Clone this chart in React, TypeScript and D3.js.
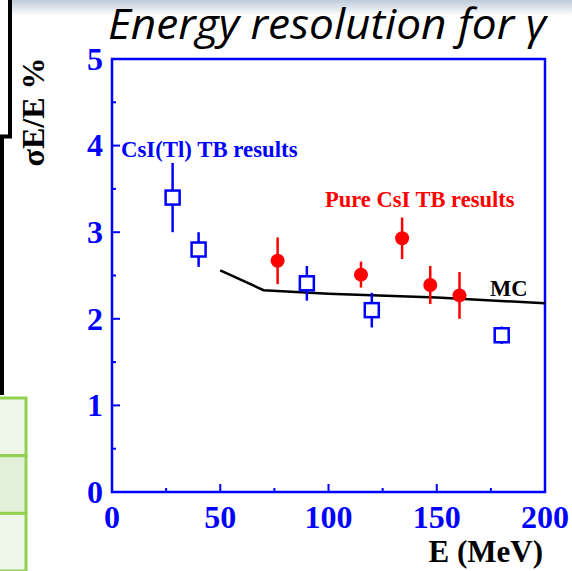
import React from "react";
import * as d3 from "d3";

// CsI(Tl) test-beam results: energy (MeV), resolution (%), error (%)
const csiTlEnergy = [28, 40, 90, 120, 180];
const csiTlRes = [3.4, 2.8, 2.41, 2.1, 1.81];
const csiTlErr = [0.4, 0.2, 0.2, 0.2, 0.1];

// Pure CsI test-beam results
const pureEnergy = [76.5, 115, 134, 147, 160.5];
const pureRes = [2.67, 2.51, 2.93, 2.39, 2.27];
const pureErr = [0.27, 0.15, 0.24, 0.22, 0.27];

// Monte Carlo expectation
const mcEnergy = [50, 70, 100, 150, 200];
const mcRes = [2.56, 2.33, 2.29, 2.245, 2.18];

const xTicks = [0, 50, 100, 150, 200];
const xMinorTicks = [25, 75, 125, 175];
const yTicks = [0, 1, 2, 3, 4, 5];
const yMinorTicks = [0.5, 1.5, 2.5, 3.5, 4.5];

const BLUE = "#0000ff";
const RED = "#ff0000";
const SERIF = "'Liberation Serif', 'DejaVu Serif', serif";

export default function App() {
  const W = 572;
  const H = 571;
  const x = d3.scaleLinear().domain([0, 200]).range([112, 545]);
  const y = d3.scaleLinear().domain([0, 5]).range([492, 59]);

  const mcLine = d3
    .line<number>()
    .x((_, i) => x(mcEnergy[i]))
    .y((d) => y(d))(mcRes);

  const sq = 14;

  return (
    <svg
      width={W}
      height={H}
      viewBox={`0 0 ${W} ${H}`}
      style={{ position: "absolute", left: 0, top: 0, background: "#fff" }}
    >
      <defs>
        <linearGradient id="topShade" x1="0" y1="0" x2="0" y2="1">
          <stop offset="0" stopColor="#bfcbdb" />
          <stop offset="1" stopColor="#ffffff" />
        </linearGradient>
      </defs>
      <rect x={0} y={0} width={W} height={H} fill="#fff" />
      <rect x={12} y={0} width={W - 12} height={16} fill="url(#topShade)" />

      {/* slide decorations on the left edge */}
      <path
        d="M10,0 V136.5 H2 V395"
        fill="none"
        stroke="#000"
        strokeWidth={4}
      />
      {[0, 1, 2].map((i) => (
        <rect
          key={i}
          x={-4}
          y={398 + i * 57.7}
          width={30}
          height={57.7}
          fill={i === 1 ? "#e2efd9" : "#eff6ea"}
          stroke="#92d050"
          strokeWidth={3}
        />
      ))}

      {/* title */}
      <text
        x={108}
        y={39}
        fontFamily="'Open Sans', 'Noto Sans', sans-serif"
        fontStyle="italic"
        fontSize={42}
        textLength={438}
        lengthAdjust="spacingAndGlyphs"
        fill="#000"
      >
        Energy resolution for γ
      </text>

      {/* frame */}
      <rect
        x={x(0)}
        y={y(5)}
        width={x(200) - x(0)}
        height={y(0) - y(5)}
        fill="none"
        stroke={BLUE}
        strokeWidth={2.5}
      />

      {/* y ticks */}
      {yTicks.map((t) => (
        <g key={"y" + t}>
          <line x1={x(0)} x2={x(0) + 8} y1={y(t)} y2={y(t)} stroke={BLUE} strokeWidth={2} />
          <text
            x={103}
            y={y(t)}
            dy="0.34em"
            textAnchor="end"
            fontFamily={SERIF}
            fontWeight="bold"
            fontSize={32}
            fill={BLUE}
          >
            {t}
          </text>
        </g>
      ))}
      {yMinorTicks.map((t) => (
        <line key={"ym" + t} x1={x(0)} x2={x(0) + 4} y1={y(t)} y2={y(t)} stroke={BLUE} strokeWidth={2} />
      ))}

      {/* x ticks */}
      {xTicks.map((t) => (
        <g key={"x" + t}>
          <line x1={x(t)} x2={x(t)} y1={y(0)} y2={y(0) - 8} stroke={BLUE} strokeWidth={2} />
          <text
            x={x(t)}
            y={528}
            textAnchor="middle"
            fontFamily={SERIF}
            fontWeight="bold"
            fontSize={32}
            fill={BLUE}
          >
            {t}
          </text>
        </g>
      ))}
      {xMinorTicks.map((t) => (
        <line key={"xm" + t} x1={x(t)} x2={x(t)} y1={y(0)} y2={y(0) - 4} stroke={BLUE} strokeWidth={2} />
      ))}

      {/* axis titles */}
      <text
        x={543}
        y={562}
        textAnchor="end"
        fontFamily={SERIF}
        fontWeight="bold"
        fontSize={31}
        fill="#000"
      >
        E (MeV)
      </text>
      <text
        transform="translate(44,112) rotate(-90)"
        textAnchor="middle"
        fontFamily={SERIF}
        fontWeight="bold"
        fontSize={32}
        fill="#000"
      >
        σE/E %
      </text>

      {/* Monte Carlo */}
      <path d={mcLine ?? ""} fill="none" stroke="#000" strokeWidth={2.5} />

      {/* CsI(Tl) points */}
      {csiTlEnergy.map((e, i) => (
        <g key={"b" + i}>
          <line
            x1={x(e)}
            x2={x(e)}
            y1={y(csiTlRes[i] + csiTlErr[i])}
            y2={y(csiTlRes[i] - csiTlErr[i])}
            stroke={BLUE}
            strokeWidth={2.5}
          />
          <rect
            x={x(e) - sq / 2}
            y={y(csiTlRes[i]) - sq / 2}
            width={sq}
            height={sq}
            fill="#fff"
            stroke={BLUE}
            strokeWidth={2.5}
          />
        </g>
      ))}

      {/* Pure CsI points */}
      {pureEnergy.map((e, i) => (
        <g key={"r" + i}>
          <line
            x1={x(e)}
            x2={x(e)}
            y1={y(pureRes[i] + pureErr[i])}
            y2={y(pureRes[i] - pureErr[i])}
            stroke={RED}
            strokeWidth={2.5}
          />
          <circle cx={x(e)} cy={y(pureRes[i])} r={7} fill={RED} />
        </g>
      ))}

      {/* series labels */}
      <text x={121} y={157} fontFamily={SERIF} fontWeight="bold" fontSize={22.8} fill={BLUE}>
        CsI(Tl) TB results
      </text>
      <text x={325} y={207} fontFamily={SERIF} fontWeight="bold" fontSize={22.5} fill={RED}>
        Pure CsI TB results
      </text>
      <text x={490} y={296} fontFamily={SERIF} fontWeight="bold" fontSize={22.5} fill="#000">
        MC
      </text>
    </svg>
  );
}
